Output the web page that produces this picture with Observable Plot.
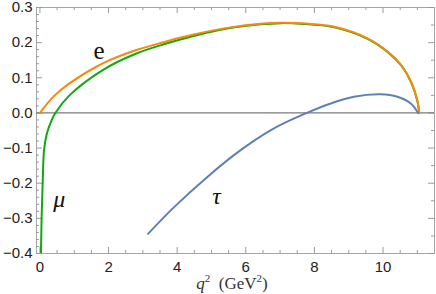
<!DOCTYPE html>
<html>
<head>
<meta charset="utf-8">
<script src="https://cdn.jsdelivr.net/npm/d3@7"></script>
<script src="https://cdn.jsdelivr.net/npm/@observablehq/plot@0.6"></script>
<style>
  html, body { margin: 0; padding: 0; background: white; }
  .serif-label text { font-family: "Liberation Serif", "DejaVu Serif", serif !important; }
</style>
</head>
<body>
<div id="chart"></div>
<script>
// ---- data ----
const eQ  = [0, 0.4, 0.86, 1.83, 2.81, 3.63, 4.48, 5.46, 6.43, 7.02, 7.6, 8.58, 9.55, 10.14, 10.53, 10.82, 11.01, 11.06];
const eA  = [0, 0.047, 0.084, 0.141, 0.179, 0.202, 0.223, 0.242, 0.2535, 0.2564, 0.255, 0.245, 0.212, 0.174, 0.136, 0.088, 0.031, 0];

const muQ = [0.015, 0.03, 0.05, 0.08, 0.12, 0.2, 0.34, 0.45, 0.86, 1.83, 2.81, 3.63, 4.48, 5.46, 6.43, 7.02, 7.6, 8.58, 9.55, 10.14, 10.53, 10.82, 11.01, 11.05];
const muA = [-0.7, -0.40, -0.296, -0.2, -0.106, -0.059, -0.021, 0, 0.05, 0.122, 0.169, 0.196, 0.219, 0.240, 0.252, 0.2555, 0.254, 0.244, 0.211, 0.173, 0.135, 0.087, 0.03, 0];

const tauQ = [3.15, 3.91, 4.88, 5.85, 6.82, 7.8, 8.48, 9.15, 9.93, 10.42, 10.81, 11.02];
const tauA = [-0.344, -0.268, -0.182, -0.106, -0.044, 0.001, 0.027, 0.046, 0.053, 0.046, 0.027, 0];

const labelText = ["e", "μ", "τ"];
const labelQ = [1.72, 0.56, 5.15];
const labelA = [0.176, -0.245, -0.238];

const xTicks = [0, 2, 4, 6, 8, 10];
const yTicks = [-0.4, -0.3, -0.2, -0.1, 0.0, 0.1, 0.2, 0.3];

// ---- build ----
const toRows = (qs, as) => qs.map((q, i) => ({q, a: as[i]}));
const eRows = toRows(eQ, eA), muRows = toRows(muQ, muA), tauRows = toRows(tauQ, tauA);
const labels = labelText.map((t, i) => ({t, q: labelQ[i], a: labelA[i]}));

const xMinor = d3.range(0, 11.01, 0.5).filter(v => Math.abs(v / 2 - Math.round(v / 2)) > 1e-6);
const yMinorL = d3.range(-40, 31, 2).map(v => v / 100).filter(v => Math.abs(v * 10 - Math.round(v * 10)) > 1e-6);
const yMinorR = d3.range(-35, 30, 10).map(v => v / 100);

const W = 436, H = 294, mL = 36, mR = 2, mT = 7, mB = 41;
const iW = W - mL - mR, iH = H - mT - mB;
const tickCol = "#9a9a9a";
const fmt = d3.format(".1f");
const serif = "Liberation Serif, DejaVu Serif, serif";

const chart = Plot.plot({
  width: W, height: H,
  marginLeft: mL, marginRight: mR, marginTop: mT, marginBottom: mB,
  style: {fontSize: "15px", color: "#222", background: "white", overflow: "visible"},
  x: {domain: [-0.1, 11.5]},
  y: {domain: [-0.4, 0.3]},
  marks: [
    Plot.frame({stroke: "#a6a6a6"}),
    // inward ticks: bottom/top
    Plot.tickX(xTicks, {x: d => d, insetTop: iH - 6, stroke: tickCol}),
    Plot.tickX(xMinor, {x: d => d, insetTop: iH - 3, stroke: tickCol}),
    Plot.tickX(xTicks, {x: d => d, insetBottom: iH - 6, stroke: tickCol}),
    Plot.tickX(xMinor, {x: d => d, insetBottom: iH - 3, stroke: tickCol}),
    // inward ticks: left/right
    Plot.tickY(yTicks, {y: d => d, insetRight: iW - 6, stroke: tickCol}),
    Plot.tickY(yMinorL, {y: d => d, insetRight: iW - 3, stroke: tickCol}),
    Plot.tickY(yTicks, {y: d => d, insetLeft: iW - 6, stroke: tickCol}),
    Plot.tickY(yMinorR, {y: d => d, insetLeft: iW - 3, stroke: tickCol}),
    Plot.axisX({ticks: xTicks, tickSize: 0, tickPadding: 8, label: null, tickFormat: d => String(d), fontFamily: "Liberation Sans"}),
    Plot.axisY({ticks: yTicks, tickSize: 0, tickPadding: 4, label: null, tickFormat: fmt, fontFamily: "Liberation Sans"}),
    Plot.ruleY([0], {stroke: "#7a7a7a", strokeWidth: 1.2}),
    Plot.line(muRows, {x: "q", y: "a", stroke: "#12a812", strokeWidth: 2, curve: "catmull-rom", clip: true}),
    Plot.line(eRows, {x: "q", y: "a", stroke: "#f7890c", strokeWidth: 2, curve: "catmull-rom", clip: true}),
    Plot.line(tauRows, {x: "q", y: "a", stroke: "#5e81b5", strokeWidth: 2, curve: "catmull-rom", clip: true}),
    Plot.text(labels.filter(d => d.t === "e"), {x: "q", y: "a", text: "t", fontFamily: serif, fontSize: 25, fill: "#111", className: "serif-label"}),
    Plot.text(labels.filter(d => d.t !== "e"), {x: "q", y: "a", text: "t", fontFamily: serif, fontSize: 24, fontStyle: "italic", fill: "#111", className: "serif-label"})
  ]
});

document.getElementById("chart").appendChild(chart);

// x-axis title with superscripts
const svg = d3.select(chart);
const t = svg.append("text")
  .attr("x", 232)
  .attr("y", 289)
  .attr("text-anchor", "middle")
  .style("font-family", serif)
  .attr("font-size", 17)
  .attr("fill", "#333");
t.append("tspan").attr("font-style", "italic").text("q");
t.append("tspan").attr("font-size", 11).attr("dy", -7).text("2");
t.append("tspan").attr("dy", 7).text("\u2002(GeV");
t.append("tspan").attr("font-size", 11).attr("dy", -7).text("2");
t.append("tspan").attr("dy", 7).text(")");
</script>
</body>
</html>
